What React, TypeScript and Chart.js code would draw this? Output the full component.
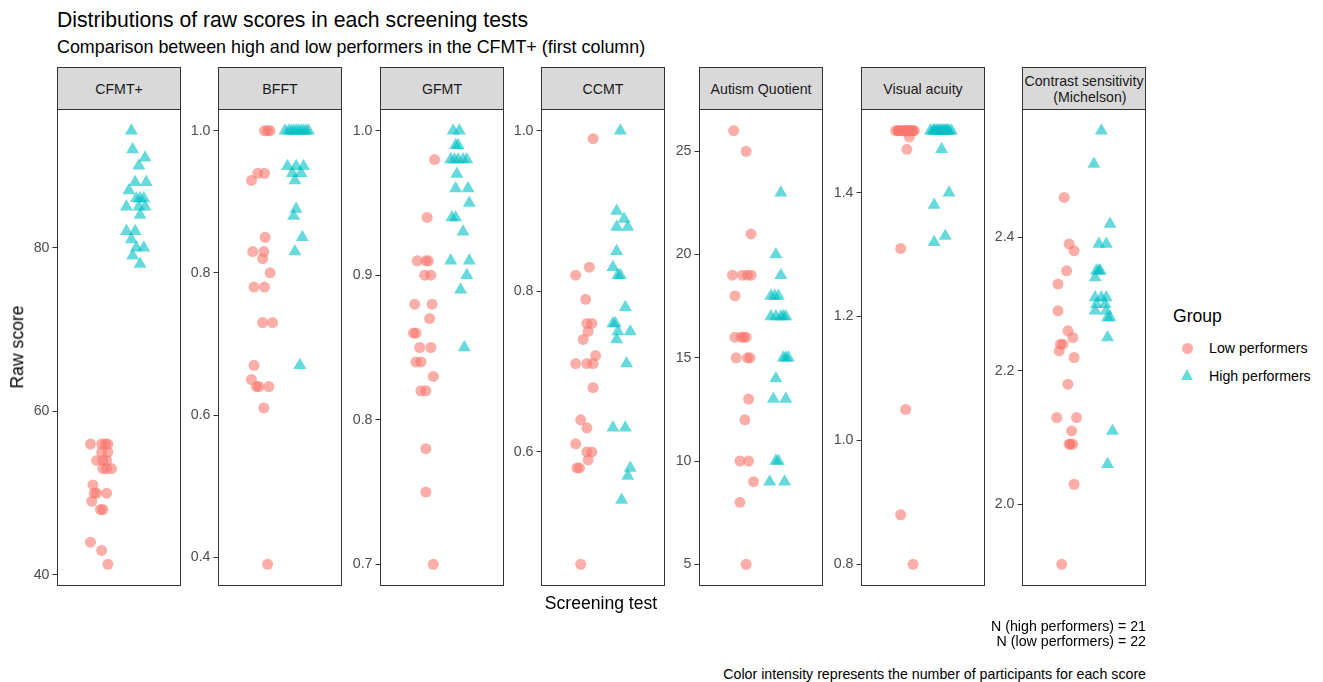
import React, { useEffect, useRef } from "react";
import { Chart, registerables } from "chart.js";

Chart.register(...registerables);

// ---------------- DATA ----------------
const testNames = [
  "CFMT+",
  "BFFT",
  "GFMT",
  "CCMT",
  "Autism Quotient",
  "Visual acuity",
  "Contrast sensitivity\n   (Michelson)",
];
const groupNames = ["Low performers", "High performers"];

// CFMT+
const cfmtLow = [56, 56, 56, 56, 55, 55, 54, 54, 54, 53, 53, 53, 51, 50, 50, 50, 49, 48, 48, 44, 43, 41.3];
const cfmtLowX = [0.27, 0.39, 0.41, 0.36, 0.36, 0.41, 0.32, 0.4, 0.37, 0.37, 0.44, 0.4, 0.29, 0.32, 0.3, 0.4, 0.28, 0.37, 0.35, 0.27, 0.36, 0.41];
const cfmtHigh = [94.3, 92, 91, 90, 88, 88, 87, 86, 86, 86, 85, 85, 85, 84, 82, 82, 81, 80, 80, 79, 78];
const cfmtHighX = [0.6, 0.61, 0.71, 0.66, 0.63, 0.72, 0.58, 0.67, 0.64, 0.7, 0.56, 0.66, 0.71, 0.67, 0.56, 0.63, 0.6, 0.64, 0.7, 0.61, 0.67];
const cfmtTicks = [40, 60, 80];
const cfmtTickLabels = ["40", "60", "80"];

// BFFT
const bfftLow = [1.0, 1.0, 1.0, 0.94, 0.94, 0.93, 0.85, 0.83, 0.83, 0.82, 0.8, 0.78, 0.78, 0.73, 0.73, 0.67, 0.65, 0.64, 0.64, 0.64, 0.61, 0.39];
const bfftLowX = [0.375, 0.4, 0.42, 0.32, 0.375, 0.27, 0.38, 0.28, 0.37, 0.36, 0.42, 0.29, 0.375, 0.36, 0.44, 0.29, 0.27, 0.31, 0.33, 0.41, 0.37, 0.4];
const bfftHigh = [1, 1, 1, 1, 1, 1, 1, 1, 1, 1, 0.95, 0.95, 0.95, 0.94, 0.94, 0.93, 0.89, 0.88, 0.85, 0.83, 0.67];
const bfftHighX = [0.54, 0.57, 0.59, 0.61, 0.63, 0.65, 0.67, 0.69, 0.71, 0.73, 0.56, 0.63, 0.69, 0.6, 0.67, 0.62, 0.63, 0.61, 0.68, 0.62, 0.66];
const bfftTicks = [0.4, 0.6, 0.8, 1.0];
const bfftTickLabels = ["0.4", "0.6", "0.8", "1.0"];

// GFMT
const gfmtLow = [0.98, 0.94, 0.91, 0.91, 0.91, 0.9, 0.9, 0.88, 0.88, 0.87, 0.86, 0.86, 0.85, 0.85, 0.84, 0.84, 0.83, 0.82, 0.82, 0.78, 0.75, 0.7];
const gfmtLowX = [0.44, 0.38, 0.3, 0.37, 0.39, 0.36, 0.41, 0.28, 0.42, 0.4, 0.27, 0.29, 0.32, 0.41, 0.29, 0.33, 0.43, 0.33, 0.37, 0.37, 0.37, 0.43];
const gfmtHigh = [1.0, 1.0, 0.99, 0.99, 0.98, 0.98, 0.98, 0.98, 0.98, 0.97, 0.96, 0.96, 0.95, 0.94, 0.94, 0.93, 0.91, 0.91, 0.9, 0.89, 0.85];
const gfmtHighX = [0.59, 0.64, 0.61, 0.63, 0.57, 0.6, 0.63, 0.67, 0.7, 0.62, 0.61, 0.71, 0.72, 0.58, 0.61, 0.67, 0.57, 0.72, 0.7, 0.65, 0.68];
const gfmtTicks = [0.7, 0.8, 0.9, 1.0];
const gfmtTickLabels = ["0.7", "0.8", "0.9", "1.0"];

// CCMT
const ccmtLow = [0.99, 0.83, 0.82, 0.79, 0.76, 0.76, 0.75, 0.74, 0.72, 0.71, 0.71, 0.71, 0.68, 0.64, 0.63, 0.61, 0.6, 0.6, 0.59, 0.58, 0.58, 0.46];
const ccmtLowX = [0.42, 0.39, 0.28, 0.36, 0.37, 0.41, 0.38, 0.34, 0.44, 0.28, 0.37, 0.42, 0.42, 0.32, 0.37, 0.28, 0.37, 0.41, 0.38, 0.29, 0.31, 0.32];
const ccmtHigh = [1.0, 0.9, 0.89, 0.88, 0.88, 0.85, 0.83, 0.82, 0.82, 0.78, 0.76, 0.76, 0.75, 0.75, 0.74, 0.71, 0.63, 0.63, 0.58, 0.57, 0.54];
const ccmtHighX = [0.64, 0.61, 0.67, 0.61, 0.7, 0.61, 0.58, 0.62, 0.64, 0.68, 0.58, 0.6, 0.62, 0.72, 0.61, 0.69, 0.58, 0.68, 0.72, 0.7, 0.65];
const ccmtTicks = [0.6, 0.8, 1.0];
const ccmtTickLabels = ["0.6", "0.8", "1.0"];

// Autism Quotient
const aqLow = [26, 25, 21, 19, 19, 19, 19, 18, 16, 16, 16, 16, 15, 15, 15, 13, 12, 10, 10, 9, 8, 5];
const aqLowX = [0.28, 0.38, 0.42, 0.27, 0.35, 0.39, 0.42, 0.29, 0.29, 0.34, 0.36, 0.38, 0.3, 0.39, 0.41, 0.4, 0.37, 0.33, 0.4, 0.44, 0.33, 0.38];
const aqHigh = [23, 20, 19, 18, 18, 18, 17, 17, 17, 17, 17, 15, 15, 15, 14, 13, 13, 10, 10, 9, 9];
const aqHighX = [0.66, 0.62, 0.66, 0.58, 0.61, 0.64, 0.58, 0.62, 0.66, 0.68, 0.7, 0.68, 0.7, 0.72, 0.62, 0.6, 0.7, 0.62, 0.64, 0.57, 0.69];
const aqTicks = [5, 10, 15, 20, 25];
const aqTickLabels = ["5", "10", "15", "20", "25"];

// Visual acuity
const vaLow = [1.5, 1.5, 1.5, 1.5, 1.5, 1.5, 1.5, 1.5, 1.5, 1.5, 1.5, 1.5, 1.5, 1.5, 1.5, 1.5, 1.49, 1.47, 1.31, 1.05, 0.88, 0.8];
const vaLowX = [0.28, 0.3, 0.31, 0.33, 0.33, 0.35, 0.36, 0.36, 0.38, 0.39, 0.4, 0.41, 0.42, 0.43, 0.3, 0.37, 0.39, 0.37, 0.32, 0.36, 0.32, 0.42];
const vaHigh = [1.5, 1.5, 1.5, 1.5, 1.5, 1.5, 1.5, 1.5, 1.5, 1.5, 1.5, 1.5, 1.5, 1.5, 1.5, 1.5, 1.47, 1.4, 1.38, 1.33, 1.32];
const vaHighX = [0.56, 0.58, 0.59, 0.6, 0.62, 0.63, 0.64, 0.65, 0.66, 0.67, 0.68, 0.7, 0.71, 0.73, 0.61, 0.69, 0.65, 0.71, 0.59, 0.68, 0.59];
const vaTicks = [0.8, 1.0, 1.2, 1.4];
const vaTickLabels = ["0.8", "1.0", "1.2", "1.4"];

// Contrast sensitivity (Michelson)
const csLow = [2.46, 2.39, 2.38, 2.35, 2.33, 2.29, 2.26, 2.25, 2.24, 2.24, 2.23, 2.22, 2.18, 2.13, 2.13, 2.11, 2.09, 2.09, 2.09, 2.03, 1.91];
const csLowX = [0.34, 0.38, 0.42, 0.36, 0.29, 0.29, 0.37, 0.41, 0.33, 0.31, 0.3, 0.42, 0.37, 0.28, 0.44, 0.4, 0.38, 0.41, 0.39, 0.42, 0.32];
const csHigh = [2.56, 2.51, 2.42, 2.39, 2.39, 2.35, 2.35, 2.35, 2.34, 2.31, 2.31, 2.31, 2.3, 2.3, 2.29, 2.29, 2.28, 2.28, 2.25, 2.11, 2.06];
const csHighX = [0.64, 0.58, 0.71, 0.62, 0.68, 0.6, 0.63, 0.62, 0.59, 0.59, 0.64, 0.68, 0.6, 0.67, 0.59, 0.68, 0.71, 0.69, 0.69, 0.73, 0.69];
const csTicks = [2.0, 2.2, 2.4];
const csTickLabels = ["2.0", "2.2", "2.4"];

const panelsData = [
  { low: cfmtLow, lowX: cfmtLowX, high: cfmtHigh, highX: cfmtHighX, ticks: cfmtTicks, labels: cfmtTickLabels },
  { low: bfftLow, lowX: bfftLowX, high: bfftHigh, highX: bfftHighX, ticks: bfftTicks, labels: bfftTickLabels },
  { low: gfmtLow, lowX: gfmtLowX, high: gfmtHigh, highX: gfmtHighX, ticks: gfmtTicks, labels: gfmtTickLabels },
  { low: ccmtLow, lowX: ccmtLowX, high: ccmtHigh, highX: ccmtHighX, ticks: ccmtTicks, labels: ccmtTickLabels },
  { low: aqLow, lowX: aqLowX, high: aqHigh, highX: aqHighX, ticks: aqTicks, labels: aqTickLabels },
  { low: vaLow, lowX: vaLowX, high: vaHigh, highX: vaHighX, ticks: vaTicks, labels: vaTickLabels },
  { low: csLow, lowX: csLowX, high: csHigh, highX: csHighX, ticks: csTicks, labels: csTickLabels },
];

// ---------------- LAYOUT / STYLE ----------------
const FONT = '"Liberation Sans", Arimo, Arial, sans-serif';
const LOW_COLOR = "rgba(248,118,109,0.6)";
const HIGH_COLOR = "rgba(0,191,196,0.6)";
const PANEL_LEFTS = [57, 218, 380, 541, 699, 861, 1022];
const PANEL_W = 124;
const PANEL_TOP = 109;
const PANEL_H = 477;
const STRIP_TOP = 67;
const AXIS_W = 42;
const PAD_V = 12;
const SMALL = 14.2;
const MEDIUM = 17.6;

const boxPlugin = {
  id: "panelBox",
  afterDatasetsDraw(chart: any) {
    const { ctx, chartArea } = chart;
    ctx.save();
    ctx.strokeStyle = "#333333";
    ctx.lineWidth = 1;
    ctx.strokeRect(
      Math.round(chartArea.left) + 0.5,
      Math.round(chartArea.top) + 0.5,
      Math.round(chartArea.right - chartArea.left) - 1,
      Math.round(chartArea.bottom - chartArea.top) - 1
    );
    ctx.restore();
  },
};

function Panel({ idx }: { idx: number }) {
  const ref = useRef<HTMLCanvasElement | null>(null);
  useEffect(() => {
    const d = panelsData[idx];
    const all = [...d.low, ...d.high];
    const mn = Math.min(...all);
    const mx = Math.max(...all);
    const ex = (mx - mn) * 0.05;
    const chart = new Chart(ref.current as HTMLCanvasElement, {
      type: "scatter",
      data: {
        datasets: [
          {
            label: groupNames[0],
            data: d.low.map((y, i) => ({ x: d.lowX[i], y })),
            pointStyle: "circle",
            pointRadius: 5.5,
            pointBorderWidth: 0,
            backgroundColor: LOW_COLOR,
            borderColor: "rgba(0,0,0,0)",
          },
          {
            label: groupNames[1],
            data: d.high.map((y, i) => ({ x: d.highX[i], y })),
            pointStyle: "triangle",
            pointRadius: 7.5,
            pointBorderWidth: 0,
            backgroundColor: HIGH_COLOR,
            borderColor: "rgba(0,0,0,0)",
          },
        ],
      },
      options: {
        responsive: false,
        animation: false,
        events: [],
        layout: { autoPadding: false, padding: { top: PAD_V, bottom: PAD_V, left: 0, right: 0 } },
        plugins: { legend: { display: false }, tooltip: { enabled: false }, title: { display: false } },
        scales: {
          x: { type: "linear", min: 0, max: 1, display: false },
          y: {
            type: "linear",
            min: mn - ex,
            max: mx + ex,
            afterFit(scale: any) {
              scale.width = AXIS_W;
              scale.paddingTop = 0;
              scale.paddingBottom = 0;
            },
            afterBuildTicks(scale: any) {
              scale.ticks = d.ticks.map((v) => ({ value: v }));
            },
            ticks: {
              autoSkip: false,
              padding: 3,
              color: "#4D4D4D",
              font: { family: FONT, size: SMALL },
              callback: (v: any) => {
                const k = d.ticks.findIndex((t) => Math.abs(t - v) < 1e-9);
                return k >= 0 ? d.labels[k] : "";
              },
            },
            grid: {
              drawOnChartArea: false,
              drawTicks: true,
              tickLength: 4.5,
              color: "#333333",
              lineWidth: 1,
            },
            border: { display: false },
          },
        },
      },
      plugins: [boxPlugin],
    } as any);
    return () => chart.destroy();
  }, [idx]);
  const left = PANEL_LEFTS[idx] - AXIS_W;
  const w = AXIS_W + PANEL_W;
  const h = PANEL_H + PAD_V * 2;
  return (
    <canvas
      ref={ref}
      width={w}
      height={h}
      style={{ position: "absolute", left, top: PANEL_TOP - PAD_V, width: w, height: h }}
    />
  );
}

const txt = (extra: React.CSSProperties): React.CSSProperties => ({
  position: "absolute",
  fontFamily: FONT,
  whiteSpace: "pre",
  lineHeight: 1,
  ...extra,
});

export default function App() {
  return (
    <div
      style={{
        position: "fixed",
        left: 0,
        top: 0,
        width: 1323,
        height: 682,
        background: "#ffffff",
        overflow: "hidden",
      }}
    >
      <div style={txt({ left: 57, top: 20, transform: "translateY(-50%)", fontSize: 21.2, color: "#000" })}>
        Distributions of raw scores in each screening tests
      </div>
      <div style={txt({ left: 57, top: 48, transform: "translateY(-50%)", fontSize: 17.9, color: "#000" })}>
        Comparison between high and low performers in the CFMT+ (first column)
      </div>

      {testNames.map((name, i) => (
        <div
          key={name}
          style={{
            position: "absolute",
            left: PANEL_LEFTS[i],
            top: STRIP_TOP,
            width: PANEL_W,
            height: PANEL_TOP - STRIP_TOP + 1,
            boxSizing: "border-box",
            border: "1px solid #333333",
            background: "#D9D9D9",
            display: "flex",
            alignItems: "center",
            justifyContent: "center",
          }}
        >
          <div
            style={{
              fontFamily: FONT,
              fontSize: SMALL,
              color: "#1A1A1A",
              whiteSpace: "pre",
              textAlign: "center",
              lineHeight: "16px",
            }}
          >
            {name}
          </div>
        </div>
      ))}

      {panelsData.map((_, i) => (
        <Panel key={i} idx={i} />
      ))}

      <div
        style={txt({
          left: 18,
          top: 347,
          transform: "translate(-50%,-50%) rotate(-90deg)",
          fontSize: MEDIUM,
          color: "#000",
        })}
      >
        Raw score
      </div>
      <div
        style={txt({
          left: 601,
          top: 604,
          transform: "translate(-50%,-50%)",
          fontSize: MEDIUM,
          color: "#000",
        })}
      >
        Screening test
      </div>

      <div style={txt({ left: 1173, top: 317, transform: "translateY(-50%)", fontSize: MEDIUM, color: "#000" })}>Group</div>
      <div
        style={{
          position: "absolute",
          left: 1187 - 5.5,
          top: 348 - 5.5,
          width: 11,
          height: 11,
          borderRadius: "50%",
          background: LOW_COLOR,
        }}
      />
      <div style={txt({ left: 1209, top: 348, transform: "translateY(-50%)", fontSize: SMALL, color: "#000" })}>
        {groupNames[0]}
      </div>
      <div
        style={{
          position: "absolute",
          left: 1187 - 6.5,
          top: 376 - 7,
          width: 0,
          height: 0,
          borderLeft: "6.5px solid transparent",
          borderRight: "6.5px solid transparent",
          borderBottom: `11.25px solid ${HIGH_COLOR}`,
        }}
      />
      <div style={txt({ left: 1209, top: 376, transform: "translateY(-50%)", fontSize: SMALL, color: "#000" })}>
        {groupNames[1]}
      </div>

      <div style={txt({ right: 1323 - 1146, top: 626, transform: "translateY(-50%)", fontSize: SMALL, color: "#000", textAlign: "right" })}>
        N (high performers) = 21
      </div>
      <div style={txt({ right: 1323 - 1146, top: 641, transform: "translateY(-50%)", fontSize: SMALL, color: "#000", textAlign: "right" })}>
        N (low performers) = 22
      </div>
      <div style={txt({ right: 1323 - 1146, top: 674, transform: "translateY(-50%)", fontSize: SMALL, color: "#000", textAlign: "right" })}>
        Color intensity represents the number of participants for each score
      </div>
    </div>
  );
}
